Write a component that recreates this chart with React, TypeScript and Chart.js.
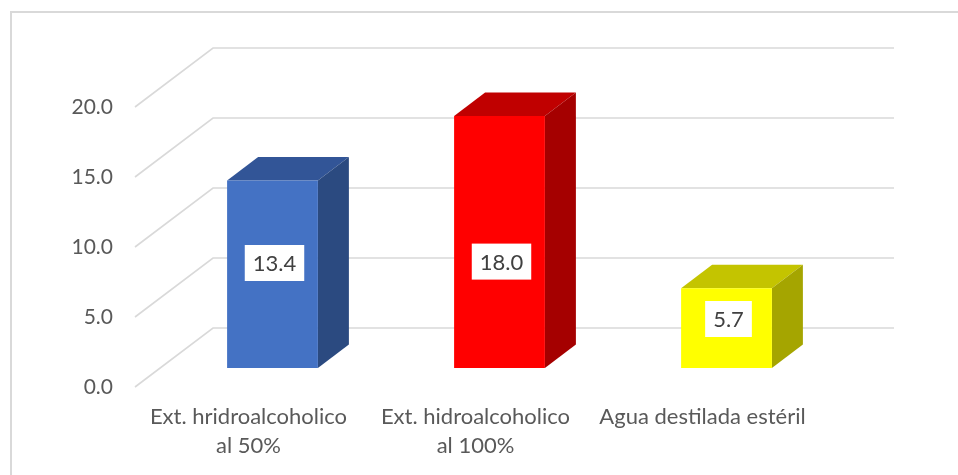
import React, { useEffect, useRef } from 'react';
import { Chart, registerables } from 'chart.js';

Chart.register(...registerables);

// ---- data ----
const categories: string[][] = [
  ['Ext. hridroalcoholico', 'al 50%'],
  ['Ext. hidroalcoholico', 'al 100%'],
  ['Agua destilada estéril'],
];
const values: number[] = [13.4, 18.0, 5.7];
const yMin = 0;
const yMax = 20;
const yStep = 5;

// ---- styles ----
const frontColors = ['#4472C4', '#FF0000', '#FFFF00'];
const topColors = ['#325597', '#C00000', '#C4C400'];
const sideColors = ['#2B4A80', '#A50000', '#A5A500'];
const FONT_FAMILY = 'Lato, "Open Sans", sans-serif';
const GRID_COLOR = '#d9d9d9';
const TEXT_COLOR = '#595959';

// 3D projection offsets (pixels)
const WALL = { x: 78, y: -59 }; // front plane -> back wall
const BAR_FRONT = { x: 24, y: -19 }; // front plane -> bar front face
const BAR_DEPTH = { x: 31, y: -23.5 }; // bar front face -> bar back face
// data label anchors (value units along each bar, as placed in the original)
const labelAnchors = [7.5, 7.6, 3.5];

const threeD = {
  id: 'threeD',
  beforeDraw(chart: any) {
    const { ctx } = chart;
    ctx.save();
    ctx.strokeStyle = GRID_COLOR;
    ctx.lineWidth = 2;
    ctx.strokeRect(11, 12, 2000, 2000);
    ctx.restore();
  },
  beforeDatasetsDraw(chart: any) {
    const { ctx, chartArea } = chart;
    const yScale = chart.scales.y;
    ctx.save();
    ctx.strokeStyle = GRID_COLOR;
    ctx.lineWidth = 1.6;
    yScale.ticks.forEach((t: any) => {
      const py = yScale.getPixelForValue(t.value);
      ctx.beginPath();
      ctx.moveTo(chartArea.left, py);
      ctx.lineTo(chartArea.left + WALL.x, py + WALL.y);
      ctx.lineTo(chartArea.right + WALL.x, py + WALL.y);
      ctx.stroke();
    });
    ctx.restore();

    ctx.save();
    ctx.translate(BAR_FRONT.x, BAR_FRONT.y);
    const meta = chart.getDatasetMeta(0);
    meta.data.forEach((bar: any, i: number) => {
      const p = bar.getProps(['x', 'y', 'base', 'width'], true);
      const l = p.x - p.width / 2;
      const r = p.x + p.width / 2;
      const top = Math.min(p.y, p.base);
      const bot = Math.max(p.y, p.base);
      ctx.fillStyle = topColors[i];
      ctx.beginPath();
      ctx.moveTo(l, top);
      ctx.lineTo(r, top);
      ctx.lineTo(r + BAR_DEPTH.x, top + BAR_DEPTH.y);
      ctx.lineTo(l + BAR_DEPTH.x, top + BAR_DEPTH.y);
      ctx.closePath();
      ctx.fill();
      ctx.fillStyle = sideColors[i];
      ctx.beginPath();
      ctx.moveTo(r, top);
      ctx.lineTo(r + BAR_DEPTH.x, top + BAR_DEPTH.y);
      ctx.lineTo(r + BAR_DEPTH.x, bot + BAR_DEPTH.y);
      ctx.lineTo(r, bot);
      ctx.closePath();
      ctx.fill();
    });
  },
  afterDatasetsDraw(chart: any) {
    const { ctx } = chart;
    ctx.restore();
    const yScale = chart.scales.y;
    const meta = chart.getDatasetMeta(0);
    ctx.save();
    ctx.font = `22px ${FONT_FAMILY}`;
    ctx.textAlign = 'center';
    ctx.textBaseline = 'middle';
    meta.data.forEach((bar: any, i: number) => {
      const p = bar.getProps(['x'], true);
      const text = values[i].toFixed(1);
      const w = ctx.measureText(text).width + 16;
      const h = 36;
      const cx = p.x + BAR_FRONT.x + 2;
      const cy = yScale.getPixelForValue(labelAnchors[i]) + BAR_FRONT.y;
      ctx.fillStyle = '#ffffff';
      ctx.fillRect(cx - w / 2, cy - h / 2, w, h);
      ctx.fillStyle = '#404040';
      ctx.fillText(text, cx, cy + 1);
    });
    ctx.restore();
  },
};

export default function App() {
  const ref = useRef<HTMLCanvasElement | null>(null);
  useEffect(() => {
    if (!ref.current) return;
    const chart = new Chart(ref.current, {
      type: 'bar',
      data: {
        labels: categories,
        datasets: [
          {
            data: values,
            backgroundColor: frontColors,
            borderWidth: 0,
            barPercentage: 0.4,
            categoryPercentage: 1,
            clip: false as any,
          },
        ],
      },
      options: {
        animation: false,
        responsive: false,
        devicePixelRatio: 1,
        layout: { padding: { left: 0, right: 142, top: 107, bottom: 0 } },
        plugins: {
          legend: { display: false },
          tooltip: { enabled: false },
          title: { display: false },
        },
        scales: {
          x: {
            grid: { display: false, drawTicks: false },
            border: { display: false },
            ticks: {
              color: TEXT_COLOR,
              font: { family: FONT_FAMILY, size: 22, lineHeight: '29.5px' as any },
              padding: 15,
              maxRotation: 0,
              autoSkip: false,
            },
            afterFit: (s: any) => {
              s.height = 88;
            },
          },
          y: {
            min: yMin,
            max: yMax,
            grid: { display: false, drawTicks: false },
            border: { display: false },
            ticks: {
              stepSize: yStep,
              color: TEXT_COLOR,
              font: { family: FONT_FAMILY, size: 21 },
              padding: 22,
              callback: (v: any) => Number(v).toFixed(1),
            },
            afterFit: (s: any) => {
              s.width = 135;
            },
          },
        },
      },
      plugins: [threeD],
    });
    return () => chart.destroy();
  }, []);
  return (
    <div style={{ position: 'absolute', left: 0, top: 0, width: 958, height: 475, background: '#fff' }}>
      <canvas ref={ref} width={958} height={475} />
    </div>
  );
}
